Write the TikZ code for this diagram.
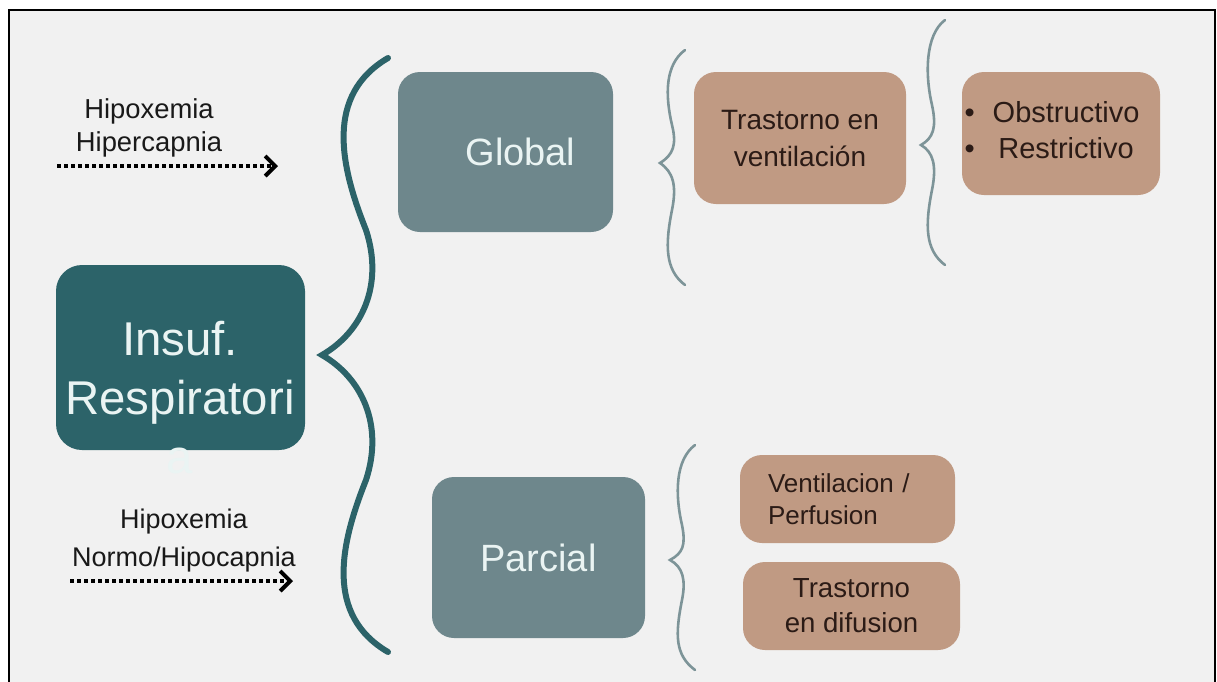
\documentclass[tikz,border=0pt]{standalone}
\usepackage{fontspec}
\setmainfont{Liberation Sans}
\usetikzlibrary{arrows.meta}
\definecolor{fondo}{HTML}{F1F1F1}
\definecolor{tealosc}{HTML}{2C6369}
\definecolor{grisazul}{HTML}{6E878C}
\definecolor{marron}{HTML}{C09A83}
\definecolor{textomarron}{HTML}{2B1B16}
\definecolor{textoclaro}{HTML}{EAF4F3}
\definecolor{llave}{HTML}{7D9498}

\begin{document}
\begin{tikzpicture}[x=0.5pt, y=-0.5pt,
  caja/.style={rounded corners=11pt, inner sep=0pt, align=center},
  cajagris/.style={caja, fill=grisazul, text=textoclaro, font=\fontsize{19}{23}\selectfont},
  cajamarron/.style={caja, fill=marron, text=textomarron},
  etiqueta/.style={align=center, text=black!90, inner sep=0pt},
  flecha/.style={line width=2.4pt, dash pattern=on 1.8pt off 1.7pt,
    -{Straight Barb[length=5pt,width=10pt,line width=2pt]}},
  llavefina/.style={draw=llave, line width=1.3pt, line cap=round},
]

%------------------------------------------------
% Marco y fondo
%------------------------------------------------
\useasboundingbox (0,0) rectangle (1217,681);
\fill[white] (0,0) rectangle (1217,681);
\clip (0,0) rectangle (1217,681);
\filldraw[fill=fondo, draw=black, line width=1.2pt] (9,10) rectangle (1215,700);

%------------------------------------------------
% Caja principal
%------------------------------------------------
\node[caja, fill=tealosc, rounded corners=13pt, minimum width=124.5pt, minimum height=92.5pt] (insuf) at (180.5,357.5) {};
\node[text=textoclaro, align=center, inner sep=0pt, font=\fontsize{23.7}{29.5}\selectfont] (insuftxt) at (180,398) {Insuf.\\Respiratori\\a};

% Etiquetas de la izquierda con sus flechas
\node[etiqueta, font=\fontsize{13.7}{16.5}\selectfont] (hipo1) at (149,128) {Hipoxemia\\Hipercapnia};
\coordinate (f1a) at (57,166);
\coordinate (f1b) at (278,166);
\draw[flecha] (f1a) -- (f1b);

\node[etiqueta, font=\fontsize{13.5}{19}\selectfont] (hipo2) at (184,541) {Hipoxemia\\Normo/Hipocapnia};
\coordinate (f2a) at (70,581);
\coordinate (f2b) at (293,581);
\draw[flecha] (f2a) -- (f2b);

% Llave grande
\draw[tealosc, line width=3pt, line cap=round]
  (388,58) .. controls (325,95) and (340,165) .. (366,230)
  .. controls (384,285) and (362,332) .. (322,355)
  .. controls (362,378) and (384,425) .. (366,480)
  .. controls (340,545) and (325,615) .. (388,652);

%------------------------------------------------
% Global / Parcial
%------------------------------------------------
\node[cajagris, minimum width=107.5pt, minimum height=80pt] (global) at (505.5,152) {\hspace*{15pt}Global};
\node[cajagris, minimum width=106.5pt, minimum height=80.5pt] (parcial) at (538.5,557.5) {Parcial};

% Llaves finas
\draw[llavefina]
  (685,50) .. controls (665,65) and (665,95) .. (672,125)
  .. controls (677,145) and (673,155) .. (660,163)
  .. controls (673,172) and (677,185) .. (672,210)
  .. controls (665,245) and (665,270) .. (685,285);
\draw[llavefina]
  (945,20) .. controls (925,35) and (925,75) .. (932,105)
  .. controls (937,128) and (933,138) .. (921,145)
  .. controls (933,152) and (937,165) .. (932,190)
  .. controls (925,225) and (925,250) .. (945,265);
\draw[llavefina]
  (695,445) .. controls (675,460) and (675,495) .. (682,525)
  .. controls (686,545) and (683,553) .. (670,560)
  .. controls (683,567) and (686,580) .. (682,600)
  .. controls (675,635) and (675,655) .. (695,670);

%------------------------------------------------
% Cajas marrones
%------------------------------------------------
\node[cajamarron, minimum width=106pt, minimum height=66pt, font=\fontsize{14}{18.5}\selectfont] (venti) at (800,138) {Trastorno en\\ventilación};
\node[cajamarron, minimum width=99pt, minimum height=61.5pt, font=\fontsize{14.5}{18}\selectfont] (obstr) at (1061,133.5)
  {\raisebox{2pt}{\begin{tabular}{@{}l@{\hspace{9pt}}c@{}}\textbullet & Obstructivo\\ \textbullet & Restrictivo\end{tabular}}\hspace*{9pt}};
\node[cajamarron, minimum width=107.5pt, minimum height=44pt, align=left, text width=79.5pt, inner xsep=14pt, font=\fontsize{13}{16}\selectfont] (perfu) at (847.5,499) {Ventilacion /\\Perfusion};
\node[cajamarron, minimum width=108.5pt, minimum height=44pt, font=\fontsize{13.8}{17.5}\selectfont] (difus) at (851.5,606) {Trastorno\\en difusion};

\end{tikzpicture}
\end{document}
